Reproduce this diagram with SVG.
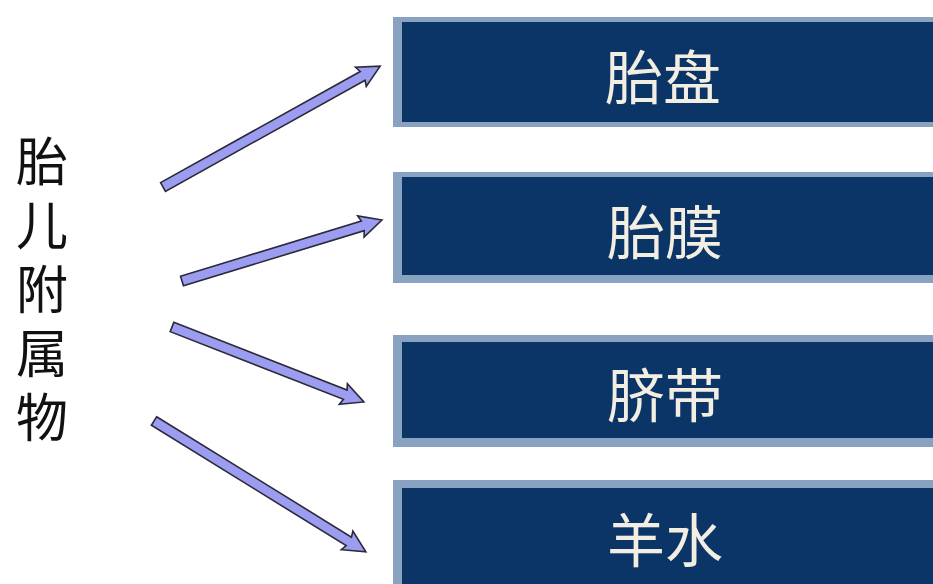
<svg xmlns="http://www.w3.org/2000/svg" width="933" height="584" viewBox="0 0 933 584">
<defs>
<style>
.outer{fill:#8aa2c2;}
.inner{fill:#0b3467;}
.lbl{font-family:"Noto Sans CJK SC","Noto Sans CJK TC",sans-serif;font-size:58px;fill:#f3eee2;text-anchor:middle;}
.side{font-family:"Noto Sans CJK SC","Noto Sans CJK TC",sans-serif;font-size:52px;fill:#111;}
.arr{fill:#9c9cf0;stroke:#2a2a3a;stroke-width:1.6;stroke-linejoin:miter;}
</style>
</defs>
<rect width="933" height="584" fill="#ffffff"/>
<g id="root">
<text class="side" x="42" y="135" writing-mode="tb" letter-spacing="12">胎儿附属物</text>
</g>
<g id="n1">
<rect class="outer" x="393" y="17" width="540" height="110"/>
<rect class="inner" x="402" y="22" width="531" height="100"/>
<text class="lbl" x="663" y="99">胎盘</text>
</g>
<g id="n2">
<rect class="outer" x="393" y="172" width="540" height="111"/>
<rect class="inner" x="402" y="177" width="531" height="98"/>
<text class="lbl" x="665" y="254">胎膜</text>
</g>
<g id="n3">
<rect class="outer" x="393" y="335" width="540" height="112"/>
<rect class="inner" x="402" y="342" width="531" height="96"/>
<text class="lbl" x="665" y="417">脐带</text>
</g>
<g id="n4">
<rect class="outer" x="393" y="480" width="540" height="110"/>
<rect class="inner" x="402" y="488" width="531" height="100"/>
<text class="lbl" x="665" y="562">羊水</text>
</g>
<g id="connectors">
<path class="arr" transform="translate(163,187) rotate(-29.1)" d="M0,-5 L228.5,-5 L226.5,-11 L248.5,0 L226.5,11 L228.5,5 L0,5 Z"/>
<path class="arr" transform="translate(182,281) rotate(-16.96)" d="M0,-5 L189,-5 L187,-11 L209,0 L187,11 L189,5 L0,5 Z"/>
<path class="arr" transform="translate(172,327) rotate(21.34)" d="M0,-5 L186,-5 L184,-11 L206,0 L184,11 L186,5 L0,5 Z"/>
<path class="arr" transform="translate(154,421) rotate(31.71)" d="M0,-5 L229,-5 L227,-11 L249,0 L227,11 L229,5 L0,5 Z"/>
</g>
</svg>
